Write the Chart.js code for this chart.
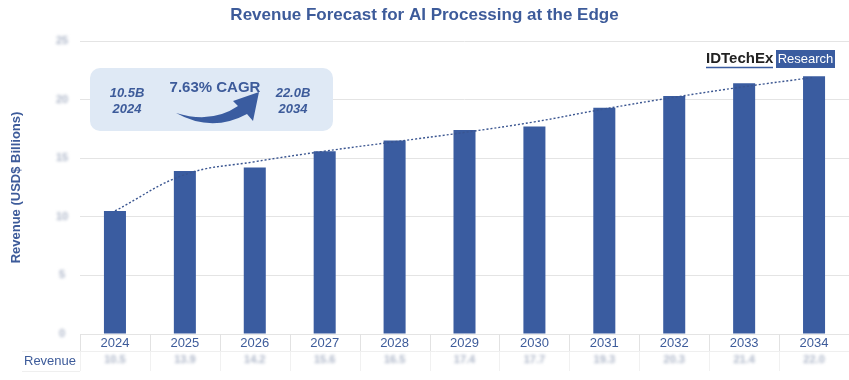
<!DOCTYPE html>
<html>
<head>
<meta charset="utf-8">
<script src="https://cdn.jsdelivr.net/npm/chart.js@4/dist/chart.umd.min.js"></script>
<style>
html,body{margin:0;padding:0;background:#fff;}
#wrap{width:849px;height:380px;}
</style>
</head>
<body>
<div id="wrap"><canvas id="c" width="849" height="380"></canvas></div>
<script>
const years = ['2024','2025','2026','2027','2028','2029','2030','2031','2032','2033','2034'];
const revenue = [10.5, 13.9, 14.2, 15.6, 16.5, 17.4, 17.7, 19.3, 20.3, 21.4, 22.0];
const trend = [10.5, 13.6, 14.7, 15.6, 16.4, 17.2, 18.1, 19.2, 20.2, 21.1, 21.9];
const yTicks = [0, 5, 10, 15, 20, 25];
const tableLabel = 'Revenue';
const chartTitle = 'Revenue Forecast for AI Processing at the Edge';
const yTitle = 'Revenue (USD$ Billions)';
const startValue = '10.5B', startYear = '2024';
const endValue = '22.0B', endYear = '2034';
const cagrText = '7.63% CAGR';
const logoText = 'IDTechEx', logoBadge = 'Research';

const FONT = '"Liberation Sans", Arial, sans-serif';
const BLUE = '#3a5ca0';
const TEXT_BLUE = '#3d5b9a';

const overlay = {
  id: 'overlay',
  afterDraw(chart) {
    const ctx = chart.ctx, xs = chart.scales.x, ys = chart.scales.y, ca = chart.chartArea;
    ctx.save();
    // blurred y tick labels and table values
    ctx.filter = 'blur(1.7px)';
    ctx.fillStyle = '#aeb7c9';
    ctx.font = 'bold 11px ' + FONT;
    ctx.textAlign = 'center';
    ctx.textBaseline = 'middle';
    yTicks.forEach(v => ctx.fillText(String(v), 62, ys.getPixelForValue(v)));
    revenue.forEach((v, i) => ctx.fillText(v.toFixed(1), xs.getPixelForValue(i), 360));
    ctx.filter = 'none';

    // table separators
    ctx.lineWidth = 1;
    const step = xs.getPixelForValue(1) - xs.getPixelForValue(0);
    for (let i = 0; i <= years.length; i++) {
      const px = Math.round(xs.getPixelForValue(i) - step / 2) + 0.5;
      ctx.strokeStyle = '#e2e2e2';
      ctx.beginPath(); ctx.moveTo(px, ca.bottom); ctx.lineTo(px, 351); ctx.stroke();
      ctx.strokeStyle = '#f1f1f1';
      ctx.beginPath(); ctx.moveTo(px, 351); ctx.lineTo(px, 371); ctx.stroke();
    }
    ctx.strokeStyle = '#efefef';
    ctx.beginPath(); ctx.moveTo(22, 351.5); ctx.lineTo(849, 351.5); ctx.stroke();
    ctx.beginPath(); ctx.moveTo(22, 371.5); ctx.lineTo(80, 371.5); ctx.stroke();

    // table row label
    ctx.fillStyle = TEXT_BLUE;
    ctx.font = '13px ' + FONT;
    ctx.textAlign = 'left';
    ctx.fillText(tableLabel, 24, 361);

    // CAGR box
    ctx.fillStyle = '#dfe9f5';
    ctx.beginPath();
    ctx.roundRect(90, 68, 243, 63, 10);
    ctx.fill();
    ctx.fillStyle = TEXT_BLUE;
    ctx.textAlign = 'center';
    ctx.font = 'italic bold 13px ' + FONT;
    ctx.fillText(startValue, 127, 93);
    ctx.fillText(startYear, 127, 109);
    ctx.fillText(endValue, 293, 93);
    ctx.fillText(endYear, 293, 109);
    ctx.font = 'bold 15px ' + FONT;
    ctx.fillText(cagrText, 215, 88);

    // swoosh arrow
    ctx.fillStyle = BLUE;
    ctx.beginPath();
    ctx.moveTo(176, 113);
    ctx.quadraticCurveTo(212, 124, 238, 106);
    ctx.lineTo(233, 101);
    ctx.lineTo(259, 92);
    ctx.lineTo(253, 121);
    ctx.lineTo(247, 114);
    ctx.quadraticCurveTo(212, 133, 176, 113);
    ctx.closePath();
    ctx.fill();

    // logo
    ctx.textAlign = 'left';
    ctx.fillStyle = '#222222';
    ctx.font = 'bold 15px ' + FONT;
    ctx.fillText(logoText, 706, 59);
    ctx.strokeStyle = BLUE;
    ctx.lineWidth = 1.5;
    ctx.beginPath(); ctx.moveTo(706, 67.5); ctx.lineTo(773, 67.5); ctx.stroke();
    ctx.fillStyle = BLUE;
    ctx.fillRect(776, 50, 59, 18);
    ctx.fillStyle = '#ffffff';
    ctx.textAlign = 'center';
    ctx.font = '13px ' + FONT;
    ctx.fillText(logoBadge, 805.5, 59.5);
    ctx.restore();
  }
};

new Chart(document.getElementById('c'), {
  data: {
    labels: years,
    datasets: [
      {
        type: 'line',
        data: trend,
        borderColor: '#3a5590',
        borderWidth: 1.4,
        borderDash: [2, 2],
        pointRadius: 0,
        tension: 0.4,
        fill: false,
        order: 0
      },
      {
        type: 'bar',
        data: revenue,
        backgroundColor: BLUE,
        borderWidth: 0,
        categoryPercentage: 1,
        barPercentage: 0.315,
        order: 1
      }
    ]
  },
  options: {
    responsive: false,
    animation: false,
    layout: { padding: { left: 0, right: 0, top: 0, bottom: 0 } },
    plugins: {
      legend: { display: false },
      tooltip: { enabled: false },
      title: {
        display: true,
        text: chartTitle,
        color: TEXT_BLUE,
        font: { family: FONT, size: 17, weight: 'bold' },
        padding: { top: 5, bottom: 15.6 }
      }
    },
    scales: {
      x: {
        offset: true,
        grid: { display: false, drawTicks: false },
        border: { display: false },
        ticks: { color: TEXT_BLUE, font: { family: FONT, size: 13 }, padding: 2, maxRotation: 0 },
        afterFit(s) { s.height = 46; }
      },
      y: {
        min: 0, max: 25,
        ticks: { display: false, stepSize: 5 },
        grid: { color: '#e4e4e4', drawTicks: false },
        border: { display: false },
        title: {
          display: true,
          text: yTitle,
          color: TEXT_BLUE,
          font: { family: FONT, size: 13, weight: 'bold' },
          padding: { top: 9, bottom: 0 }
        },
        afterFit(s) { s.width = 80; }
      }
    }
  },
  plugins: [overlay]
});
</script>
</body>
</html>
